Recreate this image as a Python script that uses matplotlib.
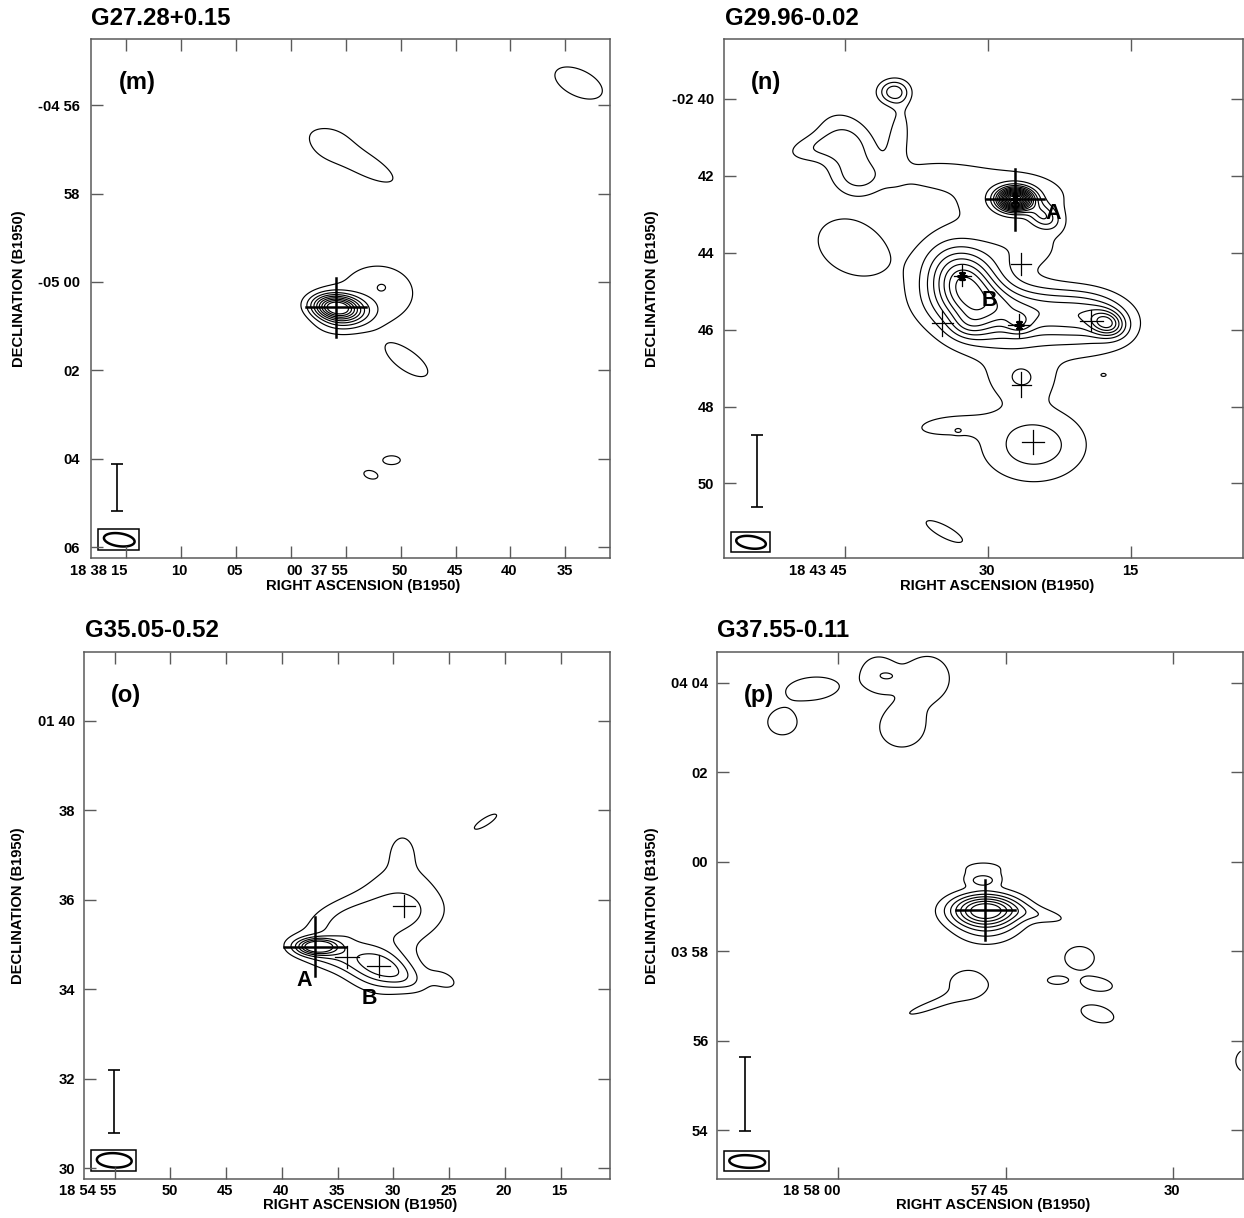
import numpy as np
import matplotlib
matplotlib.use("Agg")
import matplotlib.pyplot as plt
from matplotlib.patches import Rectangle, Polygon
from matplotlib.transforms import ScaledTranslation

plt.rcParams['font.family'] = ['Liberation Sans', 'DejaVu Sans']
plt.rcParams['font.weight'] = 'bold'

# ---------------------------------------------------------------------------
# Emission components: (peak, RA offset [s], Dec [arcmin], sigma_major ['],
#                       sigma_minor ['], position angle [deg, CCW from +x])
# RA offsets are seconds after 18h38m (m), 18h43m (n), 18h54m (o), 18h57m (p);
# Dec is given in total arcminutes.
# ---------------------------------------------------------------------------
M_SOURCES = [
    (9.5, -4.14, -300.57, 0.36, 0.19, -5),
    (1.8, -5.0, -300.85, 0.45, 0.22, 10),
    (1.55, -7.9, -300.25, 0.85, 0.65, 0),
    (0.75, -8.28, -300.12, 0.10, 0.08, 0),
    (1.5, -26.2, -295.5, 0.64, 0.33, -25),
    (1.5, -6.1, -297.25, 1.00, 0.28, -29),
    (0.8, -3.6, -296.85, 0.35, 0.30, 0),
    (1.9, -10.69, -301.8, 0.45, 0.19, -34),
    (1.5, -9.18, -304.03, 0.22, 0.11, 0),
    (1.5, -7.3, -304.36, 0.18, 0.10, -15),
]
N_SOURCES = [
    (3.6, 39.9, -159.82, 0.28, 0.22, 0),
    (1.5, 39.3, -161.0, 0.70, 0.22, 85),
    (2.5, 44.6, -161.3, 0.70, 0.50, -56),
    (1.2, 43.6, -162.1, 0.45, 0.30, 0),
    (1.4, 48.5, -161.3, 0.55, 0.25, 10),
    (1.9, 44.3, -163.85, 0.80, 0.58, -25),
    (14.0, 27.16, -162.61, 0.30, 0.19, 0),
    (3.0, 24.2, -163.05, 0.30, 0.20, -30),
    (1.7, 27.5, -162.55, 1.30, 0.60, 0),
    (1.3, 36.0, -161.95, 0.90, 0.28, 0),
    (1.5, 26.8, -163.9, 0.85, 0.45, 0),
    (6.2, 32.3, -164.85, 0.80, 0.60, -50),
    (1.0, 32.7, -164.65, 0.45, 0.40, 0),
    (1.5, 32.0, -165.9, 0.35, 0.25, 0),
    (3.0, 25.5, -165.45, 1.40, 0.42, -3),
    (1.8, 26.75, -165.85, 0.25, 0.20, 0),
    (4.5, 17.5, -165.84, 0.30, 0.22, -15),
    (2.0, 19.0, -165.6, 0.65, 0.42, -10),
    (1.5, 30.5, -165.8, 1.40, 0.80, -20),
    (1.5, 22.0, -166.0, 1.30, 0.55, -10),
    (1.6, 26.5, -167.3, 0.60, 0.40, 0),
    (2.6, 25.2, -169.0, 0.99, 0.69, 0),
    (1.3, 34.5, -168.5, 0.80, 0.25, 5),
    (1.2, 33.13, -168.63, 0.08, 0.05, 0),
    (1.15, 17.9, -167.18, 0.07, 0.04, 0),
    (1.5, 34.58, -171.25, 0.59, 0.17, -28),
]
O_SOURCES = [
    (6.0, 36.92, 94.96, 0.30, 0.12, 0),
    (1.2, 36.3, 94.85, 0.55, 0.22, -10),
    (1.2, 34.5, 95.3, 0.50, 0.35, 30),
    (1.5, 33.0, 94.62, 0.85, 0.28, -12),
    (2.6, 31.4, 94.52, 0.50, 0.40, -20),
    (1.4, 29.3, 94.3, 0.45, 0.20, -25),
    (1.1, 25.3, 94.2, 0.30, 0.18, -25),
    (1.5, 29.3, 96.0, 0.70, 0.80, 0),
    (0.9, 29.2, 97.15, 0.22, 0.30, 0),
    (1.5, 32.3, 95.6, 1.10, 0.38, 5),
    (1.5, 21.74, 97.75, 0.32, 0.09, 32),
]
P_SOURCES = [
    (8.0, 46.82, 238.92, 0.54, 0.25, 0),
    (1.6, 46.7, 238.45, 0.55, 0.28, 0),
    (1.9, 47.05, 239.58, 0.25, 0.10, 0),
    (1.2, 47.0, 239.85, 0.60, 0.20, 0),
    (1.3, 41.6, 238.8, 0.50, 0.13, -10),
    (1.9, 38.38, 237.85, 0.29, 0.225, 0),
    (1.9, 40.41, 237.35, 0.185, 0.078, 0),
    (1.9, 36.8, 237.26, 0.30, 0.13, -8),
    (1.9, 36.78, 236.6, 0.33, 0.16, -15),
    (1.7, 48.35, 237.26, 0.40, 0.30, 0),
    (1.4, 51.74, 236.78, 0.60, 0.10, 20),
    (1.95, 62.3, 243.87, 0.50, 0.22, 5),
    (1.8, 64.99, 243.12, 0.30, 0.26, 0),
    (1.7, 56.5, 244.2, 0.34, 0.35, 0),
    (1.8, 52.0, 244.1, 0.45, 0.45, 0),
    (1.8, 54.3, 243.0, 0.45, 0.40, 0),
    (0.6, 55.35, 244.15, 0.15, 0.08, 0),
    (1.5, 23.3, 235.55, 0.30, 0.30, 0),
]

# Position crosses: (RA, Dec, half-length RA [s], half-length Dec ['], heavy)
M_CROSSES = [(-4.14, -300.57, 2.75, 0.67, True)]
N_CROSSES = [
    (27.16, -162.61, 3.02, 0.79, True),
    (32.7, -164.6, 0.9, 0.27, False),
    (26.75, -165.89, 1.14, 0.30, False),
    (34.79, -165.84, 1.10, 0.32, False),
    (26.54, -164.30, 1.05, 0.28, False),
    (26.54, -167.43, 1.00, 0.32, False),
    (19.17, -165.77, 1.19, 0.27, False),
    (25.33, -168.93, 1.15, 0.31, False),
]
O_CROSSES = [
    (37.03, 94.95, 2.75, 0.66, True),
    (34.15, 94.73, 1.07, 0.24, False),
    (31.31, 94.53, 1.03, 0.25, False),
    (29.04, 95.87, 1.01, 0.25, False),
]
P_CROSSES = [(46.82, 238.92, 2.63, 0.67, True)]

N_STARS_RA = [27.16, 32.7, 26.75]
N_STARS_DEC = [-162.61, -164.6, -165.89]

N_LABELS = [("A", 23.2, -162.98), ("B", 29.87, -165.24)]
O_LABELS = [("A", 37.98, 94.2), ("B", 32.13, 93.79)]

# Flux scale bars: (RA, Dec centre, half-length)
M_BAR = (15.79, -304.65, 0.54)
N_BAR = (54.16, -169.675, 0.945)
O_BAR = (55.07, 91.49, 0.70)
P_BAR = (68.31, 234.805, 0.825)

# Beams: (RA, Dec, semi-major ['], semi-minor ['], PA) and enclosing boxes
M_BEAM = (15.59, -305.83, 0.35, 0.145, -8)
N_BEAM = (54.82, -171.53, 0.39, 0.16, -8)
O_BEAM = (55.04, 90.18, 0.39, 0.16, -3)
P_BEAM = (68.14, 233.30, 0.40, 0.14, -3)
M_BOX = (17.49, -306.07, 13.79, -305.59)
N_BOX = (56.92, -171.78, 52.83, -171.27)
O_BOX = (57.13, 89.94, 53.09, 90.41)
P_BOX = (70.19, 233.09, 66.16, 233.54)

# Axis ticks
M_XTICKS = [15, 10, 5, 0, -5, -10, -15, -20, -25]
M_XLABELS = ['18 38 15', '10', '05', '00', '37 55', '50', '45', '40', '35']
M_YTICKS = [-296, -298, -300, -302, -304, -306]
M_YLABELS = ['-04 56', '58', '-05 00', '02', '04', '06']
N_XTICKS = [45, 30, 15]
N_XLABELS = ['18 43 45', '30', '15']
N_YTICKS = [-160, -162, -164, -166, -168, -170]
N_YLABELS = ['-02 40', '42', '44', '46', '48', '50']
O_XTICKS = [55, 50, 45, 40, 35, 30, 25, 20, 15]
O_XLABELS = ['18 54 55', '50', '45', '40', '35', '30', '25', '20', '15']
O_YTICKS = [100, 98, 96, 94, 92, 90]
O_YLABELS = ['01 40', '38', '36', '34', '32', '30']
P_XTICKS = [60, 45, 30]
P_XLABELS = ['18 58 00', '57 45', '30']
P_YTICKS = [244, 242, 240, 238, 236, 234]
P_YLABELS = ['04 04', '02', '00', '03 58', '56', '54']

TITLES = ['G27.28+0.15', 'G29.96-0.02', 'G35.05-0.52', 'G37.55-0.11']
LETTERS = ['(m)', '(n)', '(o)', '(p)']

W, H = 1244, 1218
fig = plt.figure(figsize=(W / 100, H / 100), dpi=100)
GRAY = '#5a5a5a'


def sky_field(X, Y, comps, cosd):
    Z = np.zeros_like(X)
    for amp, ra, dec, smaj, smin, pa in comps:
        u = (ra - X) * 0.25 * cosd
        v = Y - dec
        t = np.deg2rad(pa)
        a = u * np.cos(t) + v * np.sin(t)
        b = -u * np.sin(t) + v * np.cos(t)
        Z += amp * np.exp(-0.5 * ((a / smaj) ** 2 + (b / smin) ** 2))
    return Z


def beam_outline(ra, dec, smaj, smin, pa, cosd):
    t = np.linspace(0, 2 * np.pi, 120)
    a, b = smaj * np.cos(t), smin * np.sin(t)
    th = np.deg2rad(pa)
    u = a * np.cos(th) - b * np.sin(th)
    v = a * np.sin(th) + b * np.cos(th)
    return np.column_stack([ra - u / (0.25 * cosd), dec + v])


def px_rect(l, t, r, b):
    return [l / W, 1 - b / H, (r - l) / W, (b - t) / H]


def draw_panel(rect, xlim, ylim, grid_x, grid_y, dec_deg, comps, levels,
               xticks, xlabels, yticks, ylabels, ypad, crosses, bar, beam, box,
               xl_pos, yl_pos, stars=None, labels=None, shifts=None):
    ax = fig.add_axes(rect)
    cosd = np.cos(np.deg2rad(dec_deg))
    gx = np.linspace(grid_x[0], grid_x[1], 500)
    gy = np.linspace(grid_y[0], grid_y[1], 500)
    X, Y = np.meshgrid(gx, gy)
    Z = sky_field(X, Y, comps, cosd)
    ax.contour(X, Y, Z, levels=levels, colors='k', linewidths=0.85)

    for ra, dec, hx, hy, heavy in crosses:
        lw = 1.8 if heavy else 0.9
        ax.plot([ra + hx, ra - hx], [dec, dec], color='k', lw=lw)
        ax.plot([ra, ra], [dec - hy, dec + hy], color='k', lw=lw)
    if stars is not None:
        ax.plot(stars[0], stars[1], linestyle='none', marker=(6, 2, 90),
                markersize=7, mew=1.8, color='k')
    if labels is not None:
        for txt, ra, dec in labels:
            ax.text(ra, dec, txt, fontsize=15.5, fontweight='bold',
                    ha='center', va='center')

    ax.errorbar([bar[0]], [bar[1]], yerr=[bar[2]], color='k', lw=1.2,
                capsize=4, capthick=1.2)
    ax.add_patch(Polygon(beam_outline(*beam, cosd), closed=True, fill=False,
                         lw=1.8, ec='k'))
    ax.add_patch(Rectangle((box[0], box[1]), box[2] - box[0], box[3] - box[1],
                           fill=False, lw=1.1, ec='k'))

    ax.set_xlim(*xlim)
    ax.set_ylim(*ylim)
    ax.set_xticks(xticks)
    ax.set_xticklabels(xlabels)
    ax.set_yticks(yticks)
    ax.set_yticklabels(ylabels)
    ax.tick_params(direction='in', length=8.6, width=1.0, color=GRAY,
                   top=True, right=True, labelsize=10.6)
    ax.tick_params(axis='x', pad=4.3)
    ax.tick_params(axis='y', pad=ypad)
    for lbl in ax.get_xticklabels() + ax.get_yticklabels():
        lbl.set_fontweight('bold')
    for i, lbl in enumerate(ax.get_xticklabels()):
        dx = -1
        if ' ' in lbl.get_text():
            lbl.set_horizontalalignment('right')
            dx = 2
        if shifts and i in shifts:
            dx = shifts[i]
        lbl.set_transform(lbl.get_transform() +
                          ScaledTranslation(dx / 100, 0, fig.dpi_scale_trans))
    for sp in ax.spines.values():
        sp.set_color(GRAY)
        sp.set_linewidth(1.1)
    ax.text(xl_pos[0], xl_pos[1], 'RIGHT ASCENSION (B1950)', transform=ax.transAxes,
            fontsize=10.6, fontweight='bold', ha='center', va='center')
    ax.text(yl_pos[0], yl_pos[1], 'DECLINATION (B1950)', transform=ax.transAxes,
            fontsize=10.6, fontweight='bold', ha='center', va='center',
            rotation=90)
    return ax


draw_panel(px_rect(90.9, 38.8, 609.5, 557.7), (18.17, -29.01), (-306.235, -294.50),
           (18.17, -29.01), (-306.235, -294.50), -5.0, M_SOURCES, np.arange(1, 10),
           M_XTICKS, M_XLABELS, M_YTICKS, M_YLABELS, 8.2, M_CROSSES, M_BAR,
           M_BEAM, M_BOX, (0.5243, -0.0545), (-0.1394, 0.5188),
           shifts={3: 4})

draw_panel(px_rect(724.3, 38.8, 1242.8, 557.7), (57.62, 3.32), (-171.93, -158.44),
           (57.62, 3.32), (-171.93, -158.44), -2.7, N_SOURCES, np.arange(1, 15),
           N_XTICKS, N_XLABELS, N_YTICKS, N_YLABELS, 7.2, N_CROSSES, N_BAR,
           N_BEAM, N_BOX, (0.5259, -0.0545), (-0.1398, 0.5188),
           stars=(N_STARS_RA, N_STARS_DEC), labels=N_LABELS)

draw_panel(px_rect(83.5, 651.5, 610.0, 1178.5), (57.80, 10.58), (89.774, 101.553),
           (57.80, 10.58), (89.774, 101.553), 1.6, O_SOURCES, np.arange(1, 7),
           O_XTICKS, O_XLABELS, O_YTICKS, O_YLABELS, 6.0, O_CROSSES, O_BAR,
           O_BEAM, O_BOX, (0.5248, -0.0505), (-0.1248, 0.5171),
           labels=O_LABELS)

draw_panel(px_rect(717.4, 652.4, 1242.8, 1178.5), (70.81, 23.76), (232.92, 244.68),
           (70.81, 23.95), (232.92, 244.59), 4.0, P_SOURCES, np.arange(1, 8),
           P_XTICKS, P_XLABELS, P_YTICKS, P_YLABELS, 6.5, P_CROSSES, P_BAR,
           P_BEAM, P_BOX, (0.5247, -0.0505), (-0.1249, 0.5189))

# Panel titles and letters
for txt, x, y in zip(TITLES, [91, 725, 85, 717.5], [24.9, 24.9, 637.4, 637.4]):
    fig.text(x / W, 1 - y / H, txt, fontsize=17.3, fontweight='bold',
             ha='left', va='baseline')
for txt, x, y in zip(LETTERS, [118.8, 751.3, 110.7, 744.2], [88.5, 88.5, 701.7, 701.7]):
    fig.text(x / W, 1 - y / H, txt, fontsize=17, fontweight='bold',
             ha='left', va='baseline')

fig.savefig('out.png', dpi=100)
